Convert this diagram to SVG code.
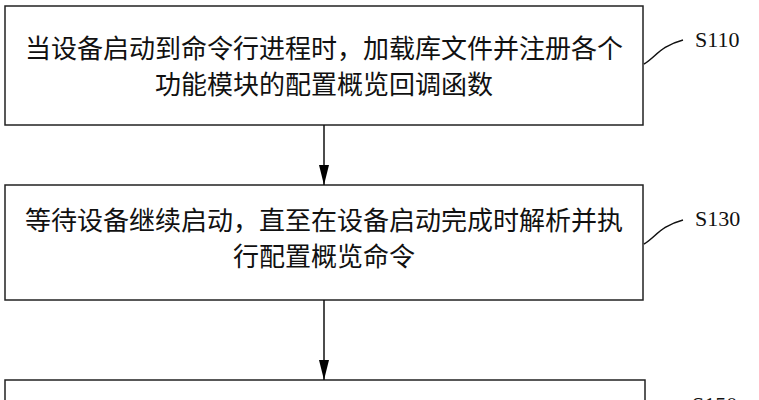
<svg xmlns="http://www.w3.org/2000/svg" width="759" height="400" viewBox="0 0 759 400">
<defs><marker id="a" markerWidth="20" markerHeight="10" refX="20" refY="5" orient="auto" markerUnits="userSpaceOnUse" viewBox="0 0 20 10"><path d="M0,0 L20,5 L0,10 Z" fill="#000"/></marker>
<style>.b{fill:#fff;stroke:#222;stroke-width:1.5}.t{font-family:"Liberation Serif","Noto Sans CJK SC",serif;font-size:26px;text-anchor:middle;fill:#111}.l{font-family:"Liberation Serif",serif;font-size:22px;fill:#111}.s{fill:none;stroke:#111;stroke-width:1.5}</style></defs>
<rect width="759" height="400" fill="#fff"/>
<g id="n1"><rect class="b" x="5" y="6" width="638" height="119"/><text class="t" x="324" y="58">当设备启动到命令行进程时，加载库文件并注册各个</text><text class="t" x="324" y="94">功能模块的配置概览回调函数</text></g>
<g id="n2"><rect class="b" x="5" y="185" width="638" height="115"/><text class="t" x="324" y="230">等待设备继续启动，直至在设备启动完成时解析并执</text><text class="t" x="324" y="266">行配置概览命令</text></g>
<g id="n3"><rect class="b" x="5" y="380" width="640" height="40"/></g>
<g id="labels"><path class="s" d="M644,64 C655,58 660,46 683,40"/><text class="l" x="695" y="47">S110</text><path class="s" d="M644,244 C655,238 660,226 683,220"/><text class="l" x="695" y="226">S130</text><text class="l" x="692" y="412">S150</text></g>
<g id="connectors"><line x1="324" y1="125" x2="324" y2="185" stroke="#111" stroke-width="1.5" marker-end="url(#a)"/><line x1="324" y1="300" x2="324" y2="380" stroke="#111" stroke-width="1.5" marker-end="url(#a)"/></g>
</svg>
